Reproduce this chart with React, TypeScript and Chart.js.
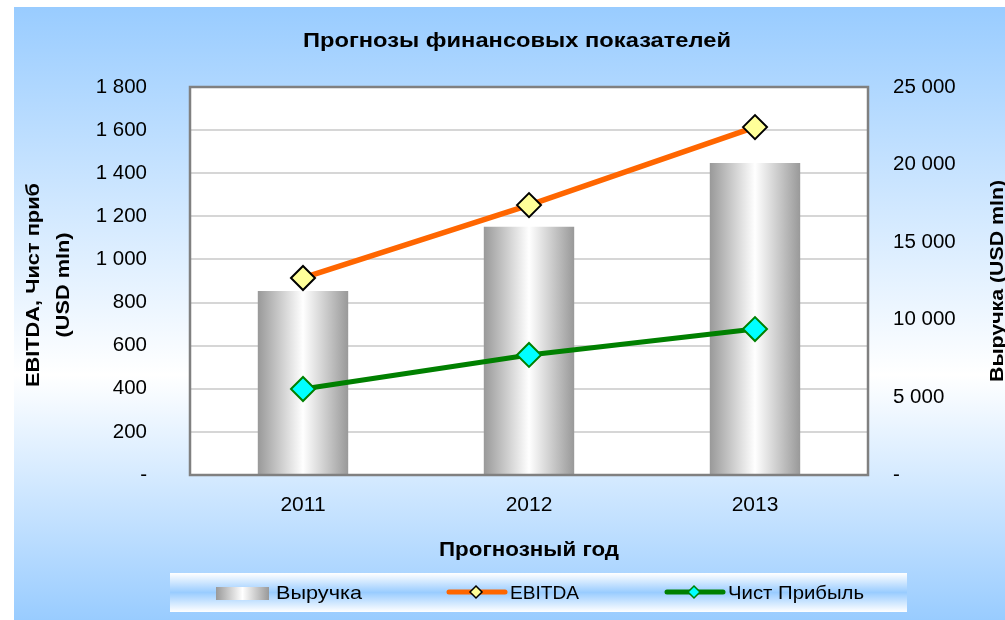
import React, { useEffect, useRef } from 'react';
import { Chart, registerables } from 'chart.js';

Chart.register(...registerables);

const categories = ['2011', '2012', '2013'];
const revenue = [11850, 16000, 20100];
const ebitda = [914, 1252, 1614];
const netProfit = [399, 557, 677];
const seriesNames = ['Выручка', 'EBITDA', 'Чист Прибыль'];
const chartTitle = 'Прогнозы финансовых показателей';
const xTitle = 'Прогнозный год';
const leftTitle = ['EBITDA, Чист приб', '(USD mln)'];
const rightTitle = 'Выручка (USD mln)';
const leftMax = 1800;
const leftStep = 200;
const rightMax = 25000;
const rightStep = 5000;

const FONT = '"Liberation Sans", Arial, sans-serif';

function fmt(v: number): string {
  if (v === 0) return '-';
  return String(v).replace(/\B(?=(\d{3})+(?!\d))/g, ' ');
}

function fitText(
  ctx: CanvasRenderingContext2D,
  text: string,
  x: number,
  y: number,
  width: number,
  font: string,
  align: CanvasTextAlign,
  rotate = 0
) {
  ctx.save();
  ctx.translate(x, y);
  ctx.rotate(rotate);
  ctx.font = font;
  const w = ctx.measureText(text).width;
  ctx.scale(width / w, 1);
  ctx.textAlign = align;
  ctx.textBaseline = 'alphabetic';
  ctx.fillStyle = '#000';
  ctx.fillText(text, 0, 0);
  ctx.restore();
}

function diamond(ctx: CanvasRenderingContext2D, x: number, y: number, r: number, fill: string, stroke: string, lw: number) {
  ctx.beginPath();
  ctx.moveTo(x, y - r);
  ctx.lineTo(x + r, y);
  ctx.lineTo(x, y + r);
  ctx.lineTo(x - r, y);
  ctx.closePath();
  ctx.fillStyle = fill;
  ctx.fill();
  ctx.lineWidth = lw;
  ctx.strokeStyle = stroke;
  ctx.stroke();
}

const decorPlugin = {
  id: 'decor',
  beforeDraw(chart: any) {
    const { ctx, chartArea } = chart;
    ctx.save();
    ctx.fillStyle = '#ffffff';
    ctx.fillRect(0, 0, 1005, 620);
    const g = ctx.createLinearGradient(0, 7, 0, 620);
    g.addColorStop(0, '#99ccff');
    g.addColorStop(0.6, '#ffffff');
    g.addColorStop(1, '#99ccff');
    ctx.fillStyle = g;
    ctx.fillRect(14, 7, 1005 - 14, 620 - 7);
    ctx.fillStyle = '#ffffff';
    ctx.fillRect(chartArea.left, chartArea.top, chartArea.right - chartArea.left, chartArea.bottom - chartArea.top);
    ctx.restore();
  },
  afterDraw(chart: any) {
    const { ctx, chartArea } = chart;
    ctx.save();
    ctx.strokeStyle = '#808080';
    ctx.lineWidth = 2.5;
    ctx.strokeRect(chartArea.left, chartArea.top, chartArea.right - chartArea.left, chartArea.bottom - chartArea.top);

    fitText(ctx, chartTitle, 517, 47, 428, `bold 20px ${FONT}`, 'center');
    fitText(ctx, xTitle, 529, 556, 180, `bold 20px ${FONT}`, 'center');
    fitText(ctx, leftTitle[0], 38.5, 285, 204, `bold 19px ${FONT}`, 'center', -Math.PI / 2);
    fitText(ctx, leftTitle[1], 68.5, 285, 105, `bold 19px ${FONT}`, 'center', -Math.PI / 2);
    fitText(ctx, rightTitle, 1003, 281, 202, `bold 19px ${FONT}`, 'center', -Math.PI / 2);

    const lx = 170, ly = 573, lw = 737, lh = 39;
    const lg = ctx.createLinearGradient(0, ly, 0, ly + lh);
    lg.addColorStop(0, '#ffffff');
    lg.addColorStop(0.5, '#99ccff');
    lg.addColorStop(1, '#ffffff');
    ctx.fillStyle = lg;
    ctx.fillRect(lx, ly, lw, lh);

    const bg = ctx.createLinearGradient(216, 0, 269, 0);
    bg.addColorStop(0, '#999999');
    bg.addColorStop(0.5, '#ffffff');
    bg.addColorStop(1, '#999999');
    ctx.fillStyle = bg;
    ctx.fillRect(216, 587, 53, 13);
    fitText(ctx, seriesNames[0], 276, 599, 86, `19px ${FONT}`, 'left');

    ctx.lineCap = 'round';
    ctx.strokeStyle = '#ff6600';
    ctx.lineWidth = 5;
    ctx.beginPath();
    ctx.moveTo(449, 592);
    ctx.lineTo(505, 592);
    ctx.stroke();
    diamond(ctx, 476, 592, 6, '#ffff99', '#000000', 1.5);
    fitText(ctx, seriesNames[1], 510, 599, 69, `19px ${FONT}`, 'left');

    ctx.strokeStyle = '#008000';
    ctx.lineWidth = 5;
    ctx.beginPath();
    ctx.moveTo(667, 592);
    ctx.lineTo(723, 592);
    ctx.stroke();
    diamond(ctx, 694, 592, 6, '#00ffff', '#008000', 1.5);
    fitText(ctx, seriesNames[2], 728, 599, 136, `19px ${FONT}`, 'left');
    ctx.restore();
  },
};

function barFill(c: any) {
  const chart = c.chart;
  const xs = chart && chart.scales && chart.scales.x;
  if (!xs || c.dataIndex === undefined) return '#cccccc';
  const cx = xs.getPixelForValue(c.dataIndex);
  const half = (xs.width / categories.length) * 0.4 / 2;
  if (!isFinite(cx) || !isFinite(half) || half <= 0) return '#cccccc';
  const g = chart.ctx.createLinearGradient(cx - half, 0, cx + half, 0);
  g.addColorStop(0, '#999999');
  g.addColorStop(0.5, '#ffffff');
  g.addColorStop(1, '#999999');
  return g;
}

export default function App() {
  const ref = useRef<HTMLCanvasElement | null>(null);
  useEffect(() => {
    if (!ref.current) return;
    const chart = new Chart(ref.current, {
      type: 'bar',
      data: {
        labels: categories,
        datasets: [
          {
            type: 'line',
            label: seriesNames[1],
            data: ebitda,
            yAxisID: 'y',
            order: 1,
            borderColor: '#ff6600',
            borderWidth: 5.5,
            pointStyle: 'rectRot',
            pointRadius: 12,
            pointHoverRadius: 12,
            pointBackgroundColor: '#ffff99',
            pointBorderColor: '#000000',
            pointBorderWidth: 2,
            tension: 0,
          },
          {
            type: 'line',
            label: seriesNames[2],
            data: netProfit,
            yAxisID: 'y',
            order: 1,
            borderColor: '#008000',
            borderWidth: 5,
            pointStyle: 'rectRot',
            pointRadius: 12,
            pointHoverRadius: 12,
            pointBackgroundColor: '#00ffff',
            pointBorderColor: '#008000',
            pointBorderWidth: 2,
            tension: 0,
          },
          {
            type: 'bar',
            label: seriesNames[0],
            data: revenue,
            yAxisID: 'y1',
            order: 2,
            barPercentage: 0.4,
            categoryPercentage: 1,
            borderWidth: 0,
            backgroundColor: barFill,
          },
        ],
      },
      options: {
        animation: false,
        responsive: false,
        devicePixelRatio: 1,
        events: [],
        layout: { padding: { top: 87, left: 0, right: 0, bottom: 0 } },
        plugins: {
          legend: { display: false },
          title: { display: false },
          tooltip: { enabled: false },
        },
        scales: {
          x: {
            grid: { display: false, drawTicks: false },
            border: { display: false },
            ticks: { color: '#000', font: { family: FONT, size: 21 }, padding: 18 },
            afterFit: (s: any) => { s.height = 145; },
          },
          y: {
            position: 'left',
            min: 0,
            max: leftMax,
            grid: { color: '#d6d6d6', lineWidth: 2, drawTicks: false },
            border: { display: false },
            ticks: {
              stepSize: leftStep,
              color: '#000',
              font: { family: FONT, size: 20.5 },
              padding: 43,
              callback: (v: any) => fmt(Number(v)),
            },
            afterFit: (s: any) => { s.width = 190; },
          },
          y1: {
            position: 'right',
            min: 0,
            max: rightMax,
            grid: { display: false, drawTicks: false },
            border: { display: false },
            ticks: {
              stepSize: rightStep,
              color: '#000',
              font: { family: FONT, size: 20.5 },
              padding: 25,
              callback: (v: any) => fmt(Number(v)),
            },
            afterFit: (s: any) => { s.width = 137; },
          },
        },
      } as any,
      plugins: [decorPlugin],
    });
    return () => chart.destroy();
  }, []);
  return (
    <div style={{ position: 'absolute', left: 0, top: 0, width: 1005, height: 620, background: '#fff' }}>
      <canvas ref={ref} width={1005} height={620} style={{ width: 1005, height: 620, display: 'block' }} />
    </div>
  );
}
